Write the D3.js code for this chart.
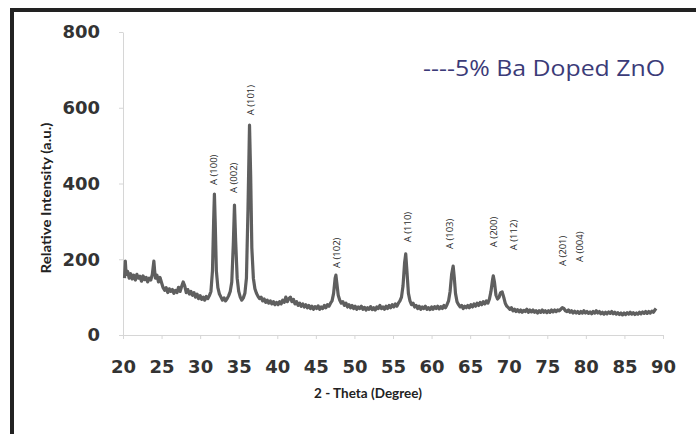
<!DOCTYPE html>
<html>
<head>
<meta charset="utf-8">
<script src="https://cdn.jsdelivr.net/npm/d3@7"></script>
<style>
  body { margin: 0; background: #fff; }
  .tick text { font-family: "DejaVu Sans", sans-serif; font-weight: bold; font-size: 18px; fill: #333; }
  .axis path, .axis line { stroke: #d6d6d6; }
  .axis-label { font-family: Lato, sans-serif; font-weight: bold; fill: #222; }
  .peak-label { font-family: "Open Sans", sans-serif; font-size: 9.5px; fill: #2a2a2a; }
  .legend { font-family: "Open Sans", sans-serif; fill: #3b3b78; }
</style>
</head>
<body>
<svg></svg>
<script>
// XRD pattern: [2-theta, intensity]
let pattern = [
  [20.2,150],[20.3,195],[20.4,160],[20.6,168],[20.8,150],[21.0,162],[21.2,148],[21.4,158],[21.6,145],[21.8,160],
  [22.0,150],[22.2,155],[22.4,142],[22.6,156],[22.8,146],[23.0,152],[23.2,140],[23.4,150],[23.6,145],[23.8,160],
  [24.0,195],[24.1,170],[24.2,150],[24.4,158],[24.6,140],[24.8,152],[25.0,138],[25.2,125],[25.4,118],[25.6,125],
  [25.8,112],[26.0,122],[26.2,115],[26.4,120],[26.6,110],[26.8,118],[27.0,112],[27.2,126],[27.4,115],[27.6,128],
  [27.8,140],[28.0,130],[28.2,112],[28.4,120],[28.6,108],[28.8,115],[29.0,105],[29.2,112],[29.4,100],[29.6,108],
  [29.8,96],[30.0,104],[30.2,94],[30.4,100],[30.6,92],[30.8,102],[31.0,96],[31.2,104],[31.4,115],[31.6,170],
  [31.75,300],[31.85,372],[31.95,300],[32.1,170],[32.3,125],[32.5,108],[32.7,100],[32.9,92],[33.1,98],[33.3,90],
  [33.5,96],[33.7,104],[33.9,115],[34.1,140],[34.3,240],[34.45,343],[34.6,250],[34.8,150],[35.0,115],[35.2,100],
  [35.4,92],[35.6,98],[35.8,110],[36.0,150],[36.2,330],[36.4,554],[36.55,420],[36.7,230],[36.9,150],[37.1,122],
  [37.3,110],[37.5,102],[37.7,96],[37.9,100],[38.1,90],[38.3,95],[38.5,86],[38.7,92],[38.9,84],[39.1,90],
  [39.3,82],[39.5,88],[39.7,80],[39.9,86],[40.1,80],[40.3,88],[40.5,82],[40.7,92],[40.9,86],[41.1,100],
  [41.3,88],[41.5,96],[41.7,100],[41.9,88],[42.1,94],[42.3,82],[42.5,88],[42.7,78],[42.9,84],[43.1,76],
  [43.3,82],[43.5,74],[43.7,80],[43.9,72],[44.1,78],[44.3,70],[44.5,76],[44.7,68],[44.9,75],[45.1,70],
  [45.3,77],[45.5,68],[45.7,74],[45.9,70],[46.1,78],[46.3,72],[46.5,80],[46.7,76],[46.9,84],[47.1,90],
  [47.3,110],[47.5,150],[47.6,158],[47.7,140],[47.9,105],[48.1,92],[48.3,84],[48.5,88],[48.7,78],[48.9,84],
  [49.1,74],[49.3,80],[49.5,72],[49.7,78],[49.9,70],[50.1,76],[50.3,68],[50.5,74],[50.7,70],[50.9,76],
  [51.1,68],[51.3,73],[51.5,66],[51.7,72],[51.9,68],[52.1,75],[52.3,67],[52.5,72],[52.7,66],[52.9,74],
  [53.1,70],[53.3,78],[53.5,70],[53.7,74],[53.9,68],[54.1,76],[54.3,70],[54.5,78],[54.7,72],[54.9,80],
  [55.1,74],[55.3,82],[55.5,76],[55.7,84],[55.9,90],[56.1,100],[56.3,130],[56.5,190],[56.65,214],[56.8,170],
  [57.0,110],[57.2,90],[57.4,80],[57.6,84],[57.8,74],[58.0,78],[58.2,70],[58.4,76],[58.6,68],[58.8,74],
  [59.0,70],[59.2,76],[59.4,68],[59.6,72],[59.8,67],[60.0,74],[60.2,68],[60.4,75],[60.6,70],[60.8,76],
  [61.0,69],[61.2,75],[61.4,70],[61.6,78],[61.8,72],[62.0,80],[62.2,90],[62.4,115],[62.6,160],[62.8,182],
  [62.95,150],[63.1,110],[63.3,88],[63.5,80],[63.7,74],[63.9,78],[64.1,70],[64.3,76],[64.5,72],[64.7,78],
  [64.9,72],[65.1,80],[65.3,74],[65.5,82],[65.7,76],[65.9,84],[66.1,78],[66.3,86],[66.5,80],[66.7,88],
  [66.9,82],[67.1,90],[67.3,84],[67.5,95],[67.7,115],[67.9,145],[68.0,156],[68.15,140],[68.35,105],[68.55,95],
  [68.75,100],[68.95,112],[69.15,114],[69.35,100],[69.55,84],[69.75,76],[69.95,72],[70.15,68],[70.35,72],[70.55,64],
  [70.75,68],[70.95,62],[71.15,67],[71.35,61],[71.55,66],[71.75,60],[71.95,65],[72.15,62],[72.35,68],[72.55,60],
  [72.75,66],[72.95,61],[73.15,66],[73.35,60],[73.55,64],[73.75,58],[73.95,64],[74.15,60],[74.35,66],[74.55,60],
  [74.75,64],[74.95,59],[75.15,64],[75.35,60],[75.55,66],[75.75,61],[75.95,66],[76.15,62],[76.35,66],[76.55,64],
  [76.75,68],[76.95,72],[77.15,70],[77.35,64],[77.55,62],[77.75,66],[77.95,60],[78.15,64],[78.35,58],[78.55,63],
  [78.75,58],[78.95,62],[79.15,57],[79.35,62],[79.55,58],[79.75,64],[79.95,58],[80.15,62],[80.35,57],[80.55,61],
  [80.75,56],[80.95,62],[81.15,58],[81.35,64],[81.55,58],[81.75,62],[81.95,56],[82.15,60],[82.35,55],[82.55,60],
  [82.75,56],[82.95,61],[83.15,57],[83.35,62],[83.55,56],[83.75,60],[83.95,55],[84.15,59],[84.35,54],[84.55,58],
  [84.75,53],[84.95,58],[85.15,54],[85.35,59],[85.55,55],[85.75,60],[85.95,55],[86.15,59],[86.35,54],[86.55,58],
  [86.75,55],[86.95,60],[87.15,56],[87.35,61],[87.55,57],[87.75,62],[87.95,57],[88.15,62],[88.35,58],[88.55,63],
  [88.75,60],[88.95,66],[89.1,70]
]

// Peak labels: text, 2-theta, intensity where the label starts
let peakNames = ['A (100)', 'A (002)', 'A (101)', 'A (102)', 'A (110)', 'A (103)', 'A (200)', 'A (112)', 'A (201)', 'A (004)']
let peakTheta = [31.8, 34.4, 36.6, 47.7, 56.9, 62.4, 68.0, 70.6, 77.0, 79.2]
let peakLabelY = [396, 375, 580, 177, 245, 227, 232, 224, 182, 193]

let xTicks = [20, 25, 30, 35, 40, 45, 50, 55, 60, 65, 70, 75, 80, 85, 90]
let yTicks = [0, 200, 400, 600, 800]

// Dimensions
let width = 696
let height = 434

let scale = {
    x: d3.scaleLinear().domain([20, 90]).range([123, 663]),
    y: d3.scaleLinear().domain([0, 800]).range([335, 32])
}

let svg = d3.select('svg')
            .attr('width', width)
            .attr('height', height)

// soft edge for the noisy trace
svg.append('defs').append('filter')
    .attr('id', 'soft')
    .append('feGaussianBlur')
    .attr('stdDeviation', 0.5)

// Frame (top and left bars)
svg.append('rect').attr('x', 10).attr('y', 8).attr('width', width - 10).attr('height', 4).attr('fill', '#222')
svg.append('rect').attr('x', 10).attr('y', 8).attr('width', 4).attr('height', height - 8).attr('fill', '#222')

// X axis
let xAxis = svg.append('g')
    .attr('class', 'axis')
    .attr('transform', `translate(0,${scale.y(0)})`)
    .call(d3.axisBottom(scale.x).tickValues(xTicks).tickSize(4).tickSizeOuter(0).tickPadding(21))
xAxis.selectAll('.tick text').attr('dy', '0.71em')

// Y axis
svg.append('g')
    .attr('class', 'axis')
    .attr('transform', `translate(${scale.x(20)},0)`)
    .call(d3.axisLeft(scale.y).tickValues(yTicks).tickSize(4).tickSizeOuter(0).tickPadding(19))

// Pattern line
let line = d3.line()
    .x(d => scale.x(d[0]))
    .y(d => scale.y(d[1]))

svg.append('path')
    .datum(pattern)
    .attr('d', line)
    .attr('filter', 'url(#soft)')
    .style('fill', 'none')
    .style('stroke', '#5e5e5e')
    .style('stroke-width', 3.2)
    .style('stroke-linejoin', 'round')

// Peak labels
svg.selectAll('.peak-label')
    .data(peakNames)
    .enter()
    .append('text')
    .attr('class', 'peak-label')
    .attr('transform', (d, i) => `translate(${scale.x(peakTheta[i])},${scale.y(peakLabelY[i])}) rotate(-90)`)
    .attr('dy', '0.35em')
    .text(d => d)

// Legend
svg.append('text')
    .attr('class', 'legend')
    .attr('x', 423)
    .attr('y', 76)
    .attr('textLength', 242)
    .attr('lengthAdjust', 'spacingAndGlyphs')
    .style('font-size', '22px')
    .text('----5% Ba Doped ZnO')

// X label
svg.append('text')
    .attr('class', 'axis-label')
    .attr('x', 368)
    .attr('y', 398)
    .attr('text-anchor', 'middle')
    .style('font-size', '13.5px')
    .text('2 - Theta (Degree)')

// Y label
svg.append('text')
    .attr('class', 'axis-label')
    .attr('transform', 'translate(51,198) rotate(-90)')
    .attr('text-anchor', 'middle')
    .attr('textLength', 151)
    .attr('lengthAdjust', 'spacingAndGlyphs')
    .style('font-size', '13px')
    .text('Relative Intensity (a.u.)')
</script>
</body>
</html>
